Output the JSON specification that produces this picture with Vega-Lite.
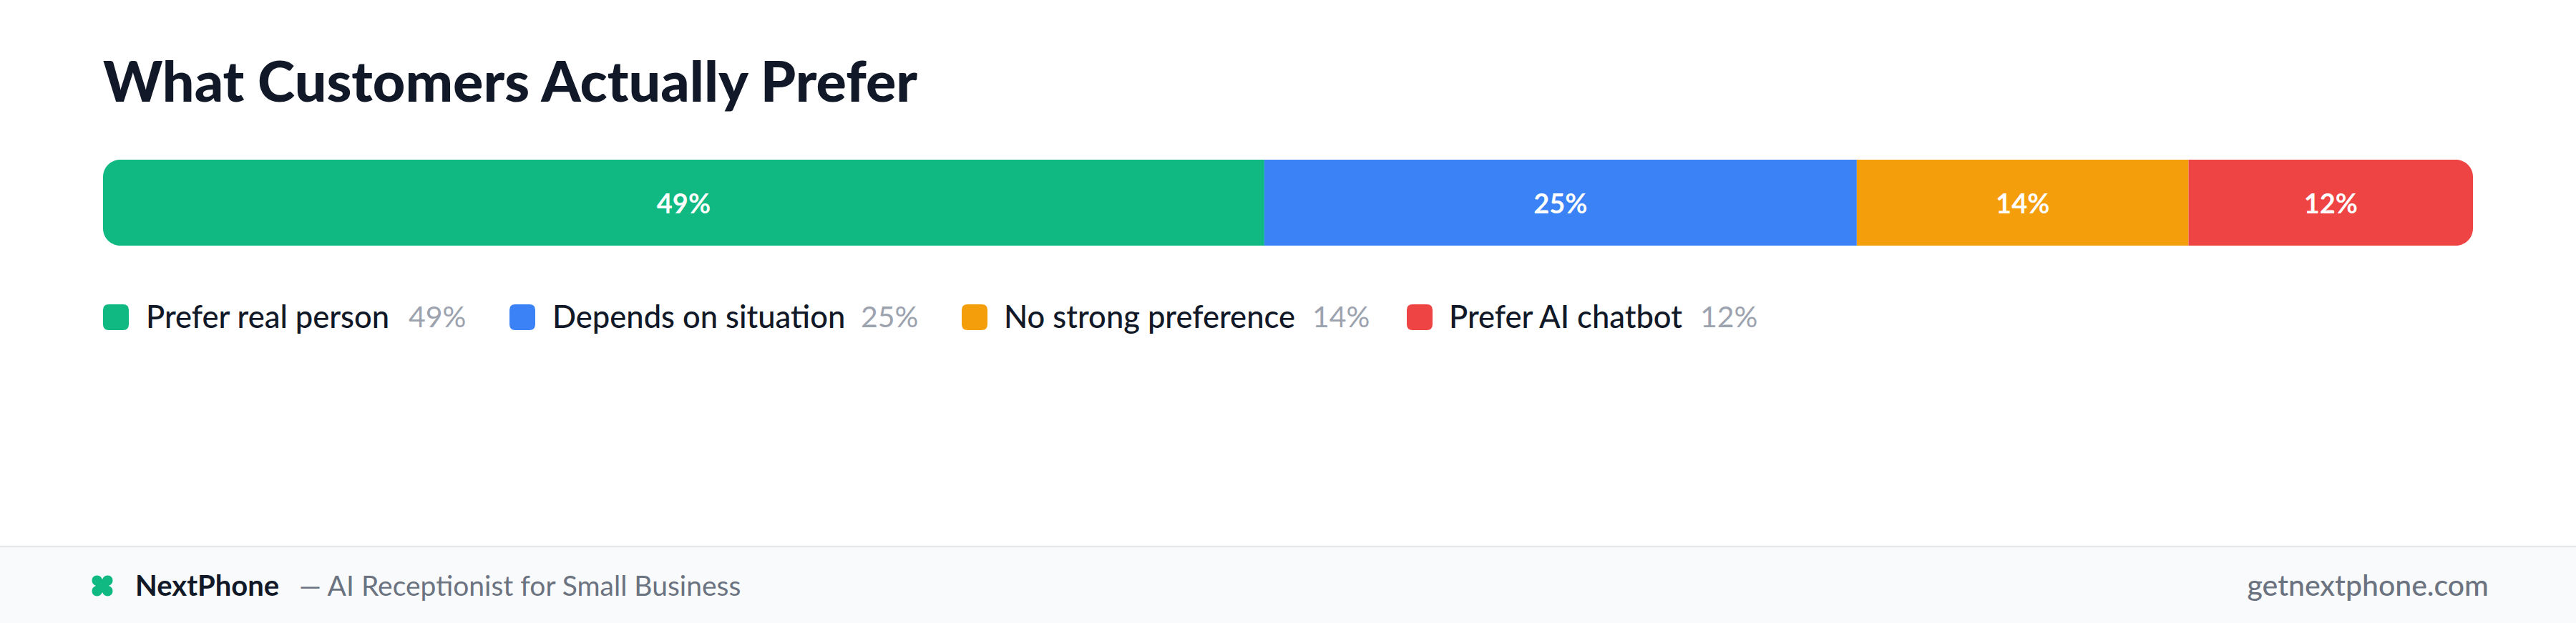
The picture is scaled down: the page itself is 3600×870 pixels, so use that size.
{
  "$schema": "https://vega.github.io/schema/vega-lite/v6.json",
  "width": 3600,
  "height": 870,
  "padding": 0,
  "autosize": "none",
  "background": "#ffffff",
  "title": {
    "text": "What Customers Actually Prefer",
    "anchor": "start",
    "frame": "group",
    "offset": 0,
    "dx": 144,
    "dy": 221,
    "baseline": "alphabetic",
    "font": "Lato",
    "fontSize": 79,
    "fontWeight": 900,
    "color": "#111827"
  },
  "config": {"view": {"stroke": null}, "text": {"font": "Lato"}},
  "datasets": {
    "prefs": [
      {"name": "Prefer real person", "value": 49, "share": "49%", "order": 0},
      {"name": "Depends on situation", "value": 25, "share": "25%", "order": 1},
      {"name": "No strong preference", "value": 14, "share": "14%", "order": 2},
      {"name": "Prefer AI chatbot", "value": 12, "share": "12%", "order": 3}
    ],
    "brand": [
      {"text": "NextPhone", "slot": "brand"}
    ],
    "tagline": [
      {"text": "— AI Receptionist for Small Business", "slot": "tagline"}
    ],
    "site": [
      {"text": "getnextphone.com", "slot": "site"}
    ],
    "footer": [{"part": "footer"}],
    "border": [{"part": "border"}]
  },
  "data": {"name": "prefs"},
  "layer": [
    {
      "data": {"name": "footer"},
      "mark": {"type": "rect", "color": "#f9fafb"},
      "encoding": {
        "y": {"field": "part", "type": "nominal", "axis": null, "scale": {"domain": ["footer"], "range": [764, 870]}}
      }
    },
    {
      "data": {"name": "border"},
      "mark": {"type": "rect", "color": "#e5e7eb"},
      "encoding": {
        "y": {"field": "part", "type": "nominal", "axis": null, "scale": {"domain": ["border"], "range": [762, 764.5]}}
      }
    },
    {
      "transform": [
        {"stack": "value", "groupby": [], "sort": [{"field": "order"}], "as": ["start", "end"]},
        {"filter": "datum.order == 0"}
      ],
      "mark": {"type": "bar", "cornerRadiusTopLeft": 24, "cornerRadiusBottomLeft": 24},
      "encoding": {
        "x": {"field": "start", "type": "quantitative", "axis": null, "scale": {"domain": [0, 100], "range": [144, 3456]}},
        "x2": {"field": "end"},
        "y": {"datum": "bar", "type": "nominal", "axis": null, "scale": {"domain": ["bar"], "range": [223, 343], "paddingInner": 0, "paddingOuter": 0}},
        "color": {"field": "name", "type": "nominal", "legend": null, "scale": {"domain": ["Prefer real person", "Depends on situation", "No strong preference", "Prefer AI chatbot"], "range": ["#10b981", "#3b82f6", "#f59e0b", "#ef4444"]}}
      }
    },
    {
      "transform": [
        {"stack": "value", "groupby": [], "sort": [{"field": "order"}], "as": ["start", "end"]},
        {"filter": "datum.order == 1 || datum.order == 2"}
      ],
      "mark": {"type": "bar"},
      "encoding": {
        "x": {"field": "start", "type": "quantitative", "axis": null, "scale": {"domain": [0, 100], "range": [144, 3456]}},
        "x2": {"field": "end"},
        "y": {"datum": "bar", "type": "nominal", "axis": null, "scale": {"domain": ["bar"], "range": [223, 343], "paddingInner": 0, "paddingOuter": 0}},
        "color": {"field": "name", "type": "nominal", "legend": null}
      }
    },
    {
      "transform": [
        {"stack": "value", "groupby": [], "sort": [{"field": "order"}], "as": ["start", "end"]},
        {"filter": "datum.order == 3"}
      ],
      "mark": {"type": "bar", "cornerRadiusTopRight": 24, "cornerRadiusBottomRight": 24},
      "encoding": {
        "x": {"field": "start", "type": "quantitative", "axis": null, "scale": {"domain": [0, 100], "range": [144, 3456]}},
        "x2": {"field": "end"},
        "y": {"datum": "bar", "type": "nominal", "axis": null, "scale": {"domain": ["bar"], "range": [223, 343], "paddingInner": 0, "paddingOuter": 0}},
        "color": {"field": "name", "type": "nominal", "legend": null}
      }
    },
    {
      "mark": {"type": "text", "color": "#ffffff", "fontSize": 38, "fontWeight": 700, "baseline": "middle"},
      "encoding": {
        "x": {"field": "value", "type": "quantitative", "stack": "zero", "bandPosition": 0.5, "axis": null, "scale": {"domain": [0, 100], "range": [144, 3456]}},
        "y": {"datum": "bar", "type": "nominal", "axis": null, "scale": {"domain": ["bar"], "range": [227, 347], "paddingInner": 0, "paddingOuter": 0}},
        "order": {"field": "order"},
        "text": {"field": "share"}
      }
    },
    {
      "mark": {"type": "point", "filled": true, "opacity": 1, "size": 1296, "shape": "M -0.56 -1 H 0.56 Q 1 -1 1 -0.56 V 0.56 Q 1 1 0.56 1 H -0.56 Q -1 1 -1 0.56 V -0.56 Q -1 -1 -0.56 -1 Z"},
      "encoding": {
        "x": {"field": "order", "type": "quantitative", "axis": null, "scale": {"domain": [0, 1, 2, 3], "range": [162, 730, 1362, 1984]}},
        "y": {"datum": "legend", "type": "nominal", "axis": null, "scale": {"domain": ["legend"], "range": [425, 461]}},
        "color": {"field": "name", "type": "nominal", "legend": null}
      }
    },
    {
      "mark": {"type": "text", "align": "left", "baseline": "middle", "color": "#111827", "fontSize": 43.5, "fontWeight": 500},
      "encoding": {
        "x": {"field": "order", "type": "quantitative", "axis": null, "scale": {"domain": [0, 1, 2, 3], "range": [204, 772, 1403, 2025]}},
        "y": {"datum": "legend", "type": "nominal", "axis": null, "scale": {"domain": ["legend"], "range": [427, 463]}},
        "text": {"field": "name"}
      }
    },
    {
      "mark": {"type": "text", "align": "left", "baseline": "middle", "color": "#9ca3af", "fontSize": 41, "fontWeight": 400},
      "encoding": {
        "x": {"field": "order", "type": "quantitative", "axis": null, "scale": {"domain": [0, 1, 2, 3], "range": [571, 1203, 1834, 2376]}},
        "y": {"datum": "legend", "type": "nominal", "axis": null, "scale": {"domain": ["legend"], "range": [427, 463]}},
        "text": {"field": "share"}
      }
    },
    {
      "data": {"name": "brand"},
      "mark": {"type": "point", "filled": true, "opacity": 1, "size": 841, "color": "#10b981", "shape": "M -0.5 -1 C -0.25 -1 -0.1 -0.85 0 -0.62 C 0.1 -0.85 0.25 -1 0.5 -1 C 0.8 -1 1 -0.8 1 -0.5 C 1 -0.25 0.85 -0.1 0.62 0 C 0.85 0.1 1 0.25 1 0.5 C 1 0.8 0.8 1 0.5 1 C 0.25 1 0.1 0.85 0 0.62 C -0.1 0.85 -0.25 1 -0.5 1 C -0.8 1 -1 0.8 -1 0.5 C -1 0.25 -0.85 0.1 -0.62 0 C -0.85 -0.1 -1 -0.25 -1 -0.5 C -1 -0.8 -0.8 -1 -0.5 -1 Z"},
      "encoding": {
        "x": {"field": "slot", "type": "nominal", "axis": null, "scale": {"domain": ["brand"], "range": [143, 143]}},
        "y": {"field": "slot", "type": "nominal", "axis": null, "scale": {"domain": ["brand"], "range": [818, 818]}}
      }
    },
    {
      "data": {"name": "brand"},
      "mark": {"type": "text", "align": "left", "baseline": "middle", "color": "#111827", "fontSize": 40, "fontWeight": 700},
      "encoding": {
        "x": {"field": "slot", "type": "nominal", "axis": null, "scale": {"domain": ["brand"], "range": [189, 189]}},
        "y": {"field": "slot", "type": "nominal", "axis": null, "scale": {"domain": ["brand"], "range": [820, 820]}},
        "text": {"field": "text"}
      }
    },
    {
      "data": {"name": "tagline"},
      "mark": {"type": "text", "align": "left", "baseline": "middle", "color": "#6b7280", "fontSize": 39, "fontWeight": 400},
      "encoding": {
        "x": {"field": "slot", "type": "nominal", "axis": null, "scale": {"domain": ["tagline"], "range": [418, 418]}},
        "y": {"field": "slot", "type": "nominal", "axis": null, "scale": {"domain": ["tagline"], "range": [820, 820]}},
        "text": {"field": "text"}
      }
    },
    {
      "data": {"name": "site"},
      "mark": {"type": "text", "align": "right", "baseline": "middle", "color": "#6b7280", "fontSize": 41, "fontWeight": 500},
      "encoding": {
        "x": {"field": "slot", "type": "nominal", "axis": null, "scale": {"domain": ["site"], "range": [3478, 3478]}},
        "y": {"field": "slot", "type": "nominal", "axis": null, "scale": {"domain": ["site"], "range": [820, 820]}},
        "text": {"field": "text"}
      }
    }
  ],
  "resolve": {"scale": {"x": "independent", "y": "independent"}}
}
